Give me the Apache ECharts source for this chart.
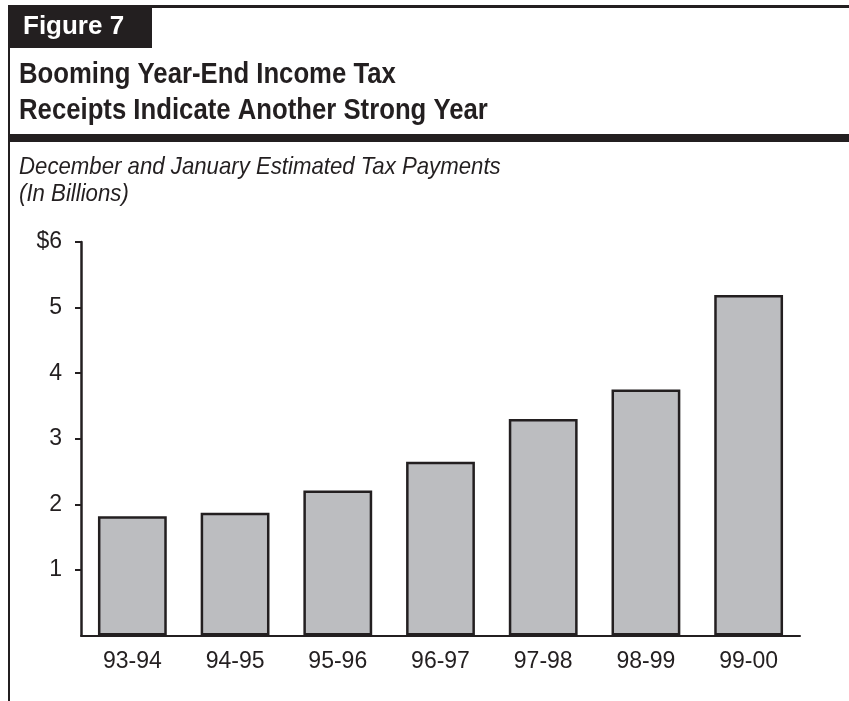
<!DOCTYPE html>
<html>
<head>
<meta charset="utf-8">
<script src="https://cdn.jsdelivr.net/npm/echarts@6/dist/echarts.min.js"></script>
<style>
    html, body { margin: 0; padding: 0; background: #fff; }
    #chart { width: 849px; height: 701px; }
</style>
</head>
<body>
<div id="chart"></div>
<script>
// 财年（类目）
var years = ['93-94', '94-95', '95-96', '96-97', '97-98', '98-99', '99-00'];
// 12月和1月预估税款（十亿美元）
var payments = [1.82, 1.87, 2.21, 2.65, 3.30, 3.75, 5.19];
// y轴刻度（0 不显示）
var yTickValues = [1, 2, 3, 4, 5, 6];
var yTickLabels = ['1', '2', '3', '4', '5', '$6'];

var ink = '#231f20';
var fam = 'Liberation Sans, Arial, sans-serif';

// 文字（sx：横向压缩，模仿窄体）
function txt(x, y, s, font, fill, sx) {
    return {
        type: 'text', x: x, y: y, scaleX: sx || 1,
        style: { text: s, fill: fill || ink, font: font, verticalAlign: 'middle' }
    };
}

var myChart = echarts.init(document.getElementById('chart'));
var option = {
    animation: false,
    backgroundColor: '#fff',
    textStyle: { fontFamily: fam },
    graphic: [
        // 顶部细线 + 左侧竖线
        { type: 'rect', shape: { x: 8, y: 5, width: 841, height: 3 }, style: { fill: ink } },
        { type: 'rect', shape: { x: 8, y: 5, width: 2, height: 696 }, style: { fill: ink } },
        // Figure 7 黑框
        { type: 'rect', shape: { x: 8, y: 5, width: 144, height: 43 }, style: { fill: ink } },
        txt(23, 27, 'Figure 7', 'bold 26px ' + fam, '#fff'),
        // 标题
        txt(19, 75, 'Booming Year-End Income Tax', 'bold 29px ' + fam, ink, 0.887),
        txt(19, 111, 'Receipts Indicate Another Strong Year', 'bold 29px ' + fam, ink, 0.887),
        // 粗横条
        { type: 'rect', shape: { x: 8, y: 134, width: 841, height: 8 }, style: { fill: ink } },
        // 副标题
        txt(19, 167, 'December and January Estimated Tax Payments', 'italic 24px ' + fam, ink, 0.925),
        txt(19, 194, '(In Billions)', 'italic 24px ' + fam, ink, 0.925)
    ],
    grid: { left: 81, right: 49, top: 242, bottom: 65.5 },
    xAxis: {
        type: 'category',
        data: years,
        axisLine: { lineStyle: { color: ink, width: 2 } },
        axisTick: { show: false },
        axisLabel: { color: ink, fontSize: 23, margin: 15 }
    },
    yAxis: {
        type: 'value',
        min: 0, max: 6, interval: 1,
        axisLine: { show: true, lineStyle: { color: ink, width: 2.5 } },
        axisTick: { show: true, length: 6, customValues: yTickValues, lineStyle: { color: ink, width: 2 } },
        axisLabel: {
            color: ink, fontSize: 23, margin: 19,
            customValues: yTickValues,
            formatter: function (v) { return yTickLabels[yTickValues.indexOf(v)]; }
        },
        splitLine: { show: false }
    },
    series: [{
        type: 'bar',
        data: payments,
        barWidth: '67%',
        itemStyle: { color: '#bcbdc0', borderColor: ink, borderWidth: 2.5 }
    }]
};
myChart.setOption(option);
</script>
</body>
</html>
